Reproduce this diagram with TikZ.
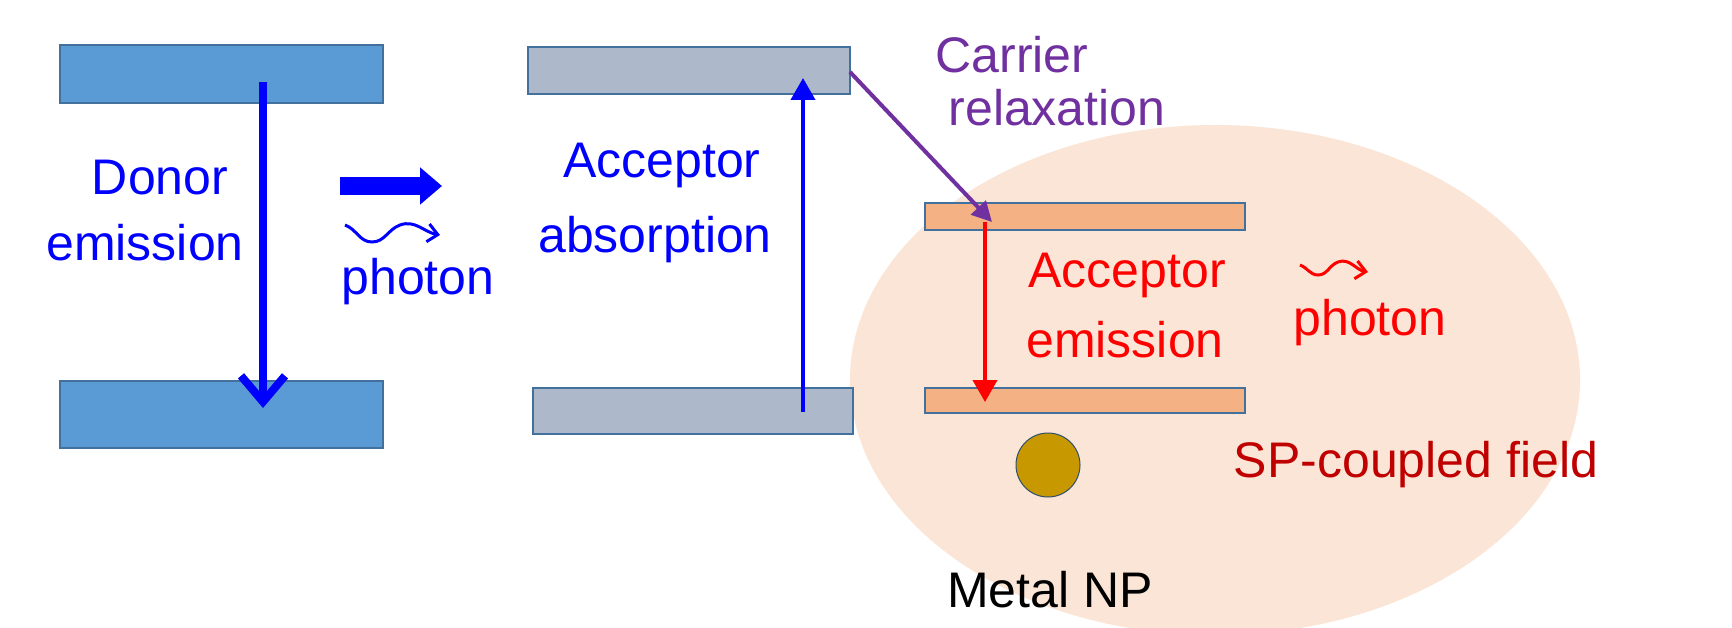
\documentclass[tikz,border=0pt]{standalone}
\usepackage{fontspec}
\setmainfont{Liberation Sans}
\usetikzlibrary{arrows.meta}
\definecolor{dblue}{HTML}{5B9BD5}
\definecolor{dedge}{HTML}{41719C}
\definecolor{grey}{HTML}{ADB9CA}
\definecolor{orng}{HTML}{F4B183}
\definecolor{pch}{HTML}{FBE5D6}
\definecolor{purp}{HTML}{7030A0}
\definecolor{dred}{HTML}{C00000}
\definecolor{gold}{HTML}{C89800}
\begin{document}
\begin{tikzpicture}[x=1pt,y=-1pt,
  bar/.style={draw=dedge,line width=1.5pt},
  lbl/.style={font=\fontsize{50}{56}\selectfont,inner sep=0pt},
  big/.style={line width=8pt,-{Straight Barb[length=26pt,width=44pt,line width=8pt]}},
  thin/.style={line width=4pt,-{Triangle[length=22pt,width=24pt]}},
  wave/.style={line width=3pt,-{Straight Barb[length=10pt,width=18pt]}}]
\useasboundingbox (0,0) rectangle (1732,628);
\fill[pch] (1215,380) ellipse [x radius=365, y radius=255];
% donor
\node[bar,fill=dblue,minimum width=323pt,minimum height=58pt,inner sep=0] (dt) at (221.5,74) {};
\node[bar,fill=dblue,minimum width=323pt,minimum height=67pt,inner sep=0] (db) at (221.5,414.5) {};
\coordinate (d1) at (263,82); \coordinate (d2) at (263,408);
\draw[blue,big] (d1) -- (d2);
\node[lbl,blue] (don) at (160,178) {Donor};
\node[lbl,blue] (dem) at (145,243) {emission};
% transfer
\coordinate (t1) at (340,186); \coordinate (t2) at (442,186);
\draw[blue,line width=18pt,-{Triangle[length=22pt,width=36pt]}] (t1) -- (t2);
\coordinate (w1) at (345,225); \coordinate (w2) at (440,235);
\draw[blue,wave] (w1) to[out=-20,in=180] (372,242) to[out=0,in=200] (400,225) to[out=20,in=170] (w2);
\node[lbl,blue] (ph1) at (418,282) {photon};
% acceptor
\node[bar,fill=grey,minimum width=322pt,minimum height=47pt,inner sep=0] (at) at (689,70.5) {};
\node[bar,fill=grey,minimum width=320pt,minimum height=46pt,inner sep=0] (ab) at (693,411) {};
\coordinate (a1) at (803,412); \coordinate (a2) at (803,78);
\draw[blue,thin] (a1) -- (a2);
\node[lbl,blue] (acc) at (662,165) {Acceptor};
\node[lbl,blue] (abs) at (655,240) {absorption};
% emission bars
\node[bar,fill=orng,minimum width=320pt,minimum height=27pt,inner sep=0] (et) at (1085,216.5) {};
\node[bar,fill=orng,minimum width=320pt,minimum height=25pt,inner sep=0] (eb) at (1085,400.5) {};
% relaxation
\node[lbl,purp] (car) at (1012,55) {Carrier};
\node[lbl,purp] (rel) at (1057,108) {relaxation};
\coordinate (r1) at (850,72); \coordinate (r2) at (992,222);
\draw[purp,line width=4pt,-{Triangle[length=20pt,width=20pt]}] (r1) -- (r2);
\coordinate (e1) at (985,222); \coordinate (e2) at (985,402);
\draw[red,thin] (e1) -- (e2);
\node[lbl,red] (acc2) at (1127,275) {Acceptor};
\node[lbl,red] (emi2) at (1125,340) {emission};
\coordinate (p1) at (1300,265); \coordinate (p2) at (1368,272);
\draw[red,wave] (p1) to[out=-20,in=180] (1318,275) to[out=0,in=200] (1338,262) to[out=20,in=170] (p2);
\node[lbl,red] (ph2) at (1370,323) {photon};
\node[circle,draw=dedge!70!black,line width=1pt,fill=gold,minimum size=64pt,inner sep=0] (np) at (1048,465) {};
\node[lbl,dred] (sp) at (1416,465) {SP-coupled field};
\node[lbl,black] (mnp) at (1050,590) {Metal NP};
\end{tikzpicture}
\end{document}
